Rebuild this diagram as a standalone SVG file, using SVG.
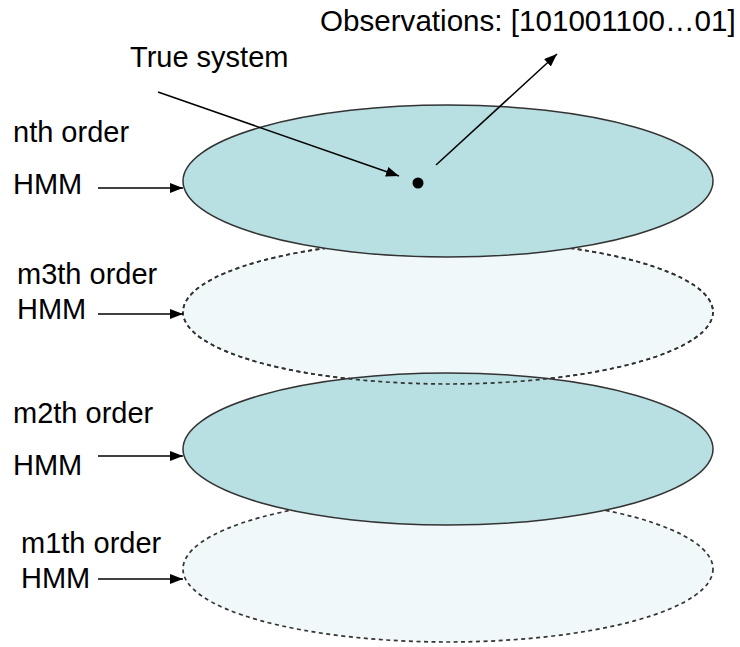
<svg xmlns="http://www.w3.org/2000/svg" xmlns:xlink="http://www.w3.org/1999/xlink" width="740" height="647" viewBox="0 0 740 647">
<style>
  text { font-family: "Liberation Sans", Arial, sans-serif; font-size: 29px; fill: #000; }
  .obs { font-size: 29.6px; }
  .solid { fill: #b8dfe2; stroke: #333; stroke-width: 1.5; }
  .dashed { fill: #f0f8fa; stroke: #333; stroke-width: 1.7; stroke-dasharray: 4 3.5; }
  .dashedline { fill: none; stroke: #333; stroke-width: 1.7; stroke-dasharray: 4 3.5; }
  .conn { stroke: #000; stroke-width: 1.5; fill: none; marker-end: url(#arrow); }
</style>
<defs>
  <marker id="arrow" markerUnits="userSpaceOnUse" markerWidth="14" markerHeight="12" refX="13" refY="5" orient="auto">
    <path d="M0,0 L13,5 L0,10 Z" fill="#000"/>
  </marker>
  <ellipse id="e2shape" cx="448" cy="312" rx="265" ry="72"/>
</defs>
<rect width="740" height="647" fill="#fff"/>

<g id="hmm-m1">
  <ellipse class="dashed" cx="448" cy="569" rx="265" ry="73"/>
  <text x="21" y="553">m1th order</text>
  <text x="21" y="588">HMM</text>
</g>
<g id="hmm-m3">
  <use xlink:href="#e2shape" class="dashed"/>
  <text x="17" y="284">m3th order</text>
  <text x="17" y="319">HMM</text>
</g>
<g id="hmm-m2">
  <ellipse class="solid" cx="448" cy="449" rx="265" ry="76"/>
  <text x="13" y="423">m2th order</text>
  <text x="13" y="475">HMM</text>
</g>
<g id="hmm-m3-outline">
  <use xlink:href="#e2shape" class="dashedline"/>
</g>
<g id="hmm-n">
  <ellipse class="solid" cx="448" cy="181" rx="265" ry="76"/>
  <text x="13" y="142">nth order</text>
  <text x="13" y="194">HMM</text>
</g>
<g id="true-system">
  <circle cx="418" cy="183" r="5.5" fill="#000"/>
  <text x="130" y="67">True system</text>
</g>
<g id="observations">
  <text class="obs" x="320" y="31">Observations: [101001100…01]</text>
</g>

<g id="connectors">
  <line class="conn" x1="158" y1="92" x2="399" y2="176"/>
  <line class="conn" x1="436" y1="165" x2="557" y2="54"/>
  <line class="conn" x1="98" y1="188" x2="183" y2="188"/>
  <line class="conn" x1="98" y1="314" x2="183" y2="314"/>
  <line class="conn" x1="98" y1="456" x2="183" y2="456"/>
  <line class="conn" x1="98" y1="579" x2="183" y2="579"/>
</g>
</svg>
